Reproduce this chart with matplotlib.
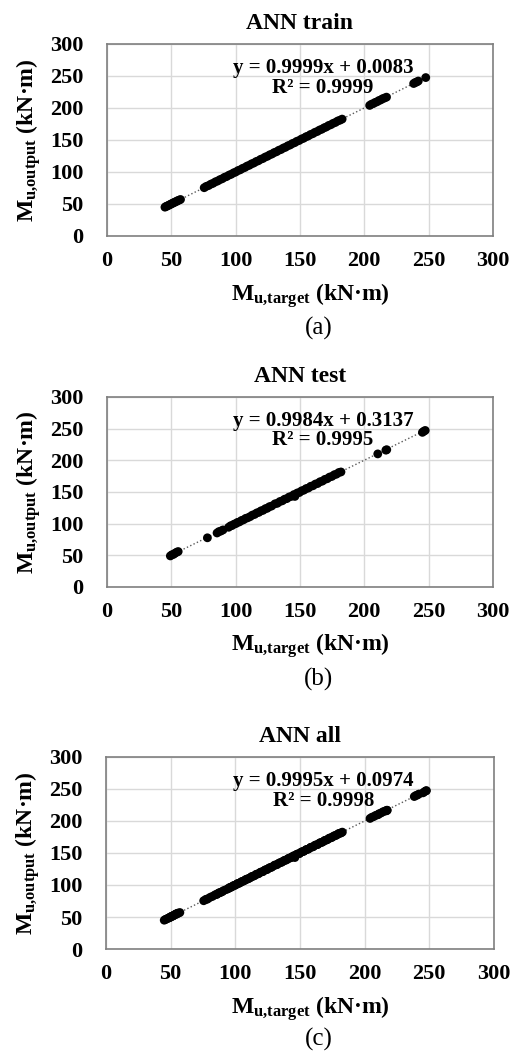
import matplotlib
matplotlib.use("Agg")
import matplotlib.pyplot as plt

plt.rcParams['font.family'] = ['Liberation Serif', 'DejaVu Serif']
plt.rcParams['mathtext.fontset'] = 'custom'
plt.rcParams['mathtext.rm'] = 'Liberation Serif:bold'
plt.rcParams['mathtext.it'] = 'Liberation Serif:bold'
plt.rcParams['mathtext.bf'] = 'Liberation Serif:bold'

# training set (target, ANN output)
train_target = [45.1, 46.0, 46.8, 47.9, 48.7, 49.6, 50.5, 51.4, 52.3, 53.1, 54.2, 55.0, 56.1, 57.2,
                75.6, 77.2, 79.0, 80.8, 82.5, 84.3, 86.1, 87.8, 89.6, 91.4,
                93.0, 94.9, 96.6, 98.4, 100.1, 101.9, 103.6, 105.4, 107.2, 108.9,
                110.7, 112.4, 114.2, 116.0, 117.7, 119.5, 121.2, 123.0, 124.8, 126.5,
                128.3, 130.0, 131.8, 133.6, 135.3, 137.1, 138.8, 140.6, 142.4, 144.1,
                145.9, 147.6, 149.4, 151.2, 152.9, 154.7, 156.4, 158.2, 160.0, 161.7,
                163.5, 165.2, 167.0, 168.8, 170.5, 172.3, 174.0, 175.8, 177.6, 179.3,
                181.1, 182.8,
                204.2, 205.6, 207.0, 208.5, 209.9, 211.3, 212.8, 214.2, 215.7, 217.3,
                238.4, 239.6, 240.8, 242.0, 247.8]
train_output = [45.0, 46.2, 46.7, 48.0, 48.5, 49.8, 50.4, 51.6, 52.2, 53.3, 54.0, 55.2, 56.0, 57.0,
                75.4, 77.5, 78.8, 81.0, 82.3, 84.6, 85.9, 88.0, 89.4, 91.7,
                92.8, 95.1, 96.4, 98.6, 99.9, 102.2, 103.4, 105.6, 107.0, 109.2,
                110.5, 112.7, 114.0, 116.3, 117.5, 119.8, 121.0, 123.3, 124.6, 126.8,
                128.1, 130.3, 131.6, 133.9, 135.1, 137.4, 138.6, 140.9, 142.2, 144.4,
                145.7, 147.9, 149.2, 151.5, 152.7, 155.0, 156.2, 158.5, 159.8, 162.0,
                163.3, 165.5, 166.8, 169.0, 170.3, 172.6, 173.8, 176.0, 177.4, 179.6,
                180.9, 182.6,
                204.0, 205.9, 206.8, 208.7, 209.6, 211.5, 212.6, 214.4, 215.5, 216.9,
                238.2, 239.8, 240.6, 242.1, 247.5]

# test set
test_target = [49.3, 50.5, 51.8, 53.0, 54.2, 55.4, 78.1, 85.6, 87.0, 88.5, 90.2,
               94.6, 96.1, 97.3, 98.8, 100.2, 101.5, 103.0, 104.6, 106.2, 107.9,
               109.5, 111.3, 113.0, 114.8, 116.4, 118.1, 119.7, 121.4, 123.1, 124.6,
               126.2, 128.0, 130.6, 132.5, 134.4, 136.3, 138.1, 139.8, 141.6, 143.5,
               145.3, 146.1, 147.9, 149.6, 151.3, 153.1, 154.8, 156.6, 158.4, 160.1,
               162.0, 163.8, 165.6, 167.5, 169.4, 171.2, 173.0, 174.9, 176.7, 178.4,
               180.2, 181.9, 210.5, 216.8, 217.5, 245.2, 246.3, 247.4]
test_output = [49.0, 50.8, 51.5, 53.4, 54.8, 55.9, 77.6, 85.2, 87.3, 88.2, 90.0,
               94.2, 96.5, 97.0, 99.1, 100.0, 101.9, 102.7, 104.9, 106.0, 108.3,
               109.2, 111.0, 113.4, 114.5, 116.8, 117.8, 120.1, 121.0, 123.5, 124.2,
               126.6, 127.7, 131.2, 132.1, 134.8, 136.0, 138.5, 139.4, 142.0, 143.1,
               145.8, 142.9, 148.3, 149.1, 151.7, 152.8, 155.2, 156.2, 158.9, 159.7,
               162.4, 163.3, 166.0, 167.1, 169.8, 170.8, 173.4, 174.5, 177.1, 178.0,
               180.6, 181.5, 210.0, 215.9, 216.6, 244.0, 245.8, 247.0]

# all = train + test
all_target = train_target + test_target
all_output = train_output + test_output

titles = ["ANN train", "ANN test", "ANN all"]
slopes = [0.9999, 0.9984, 0.9995]
intercepts = [0.0083, 0.3137, 0.0974]
r2 = [0.9999, 0.9995, 0.9998]
sublabels = ["(a)", "(b)", "(c)"]
ticks = [0, 50, 100, 150, 200, 250, 300]

datasets = [(train_target, train_output), (test_target, test_output), (all_target, all_output)]

fig = plt.figure(figsize=(5.14, 10.62), dpi=100)

# axes boxes in figure fractions [left, bottom, width, height]
boxes = [[0.208, 0.7778, 0.751, 0.1808],
         [0.208, 0.4473, 0.751, 0.1790],
         [0.206, 0.1064, 0.755, 0.1808]]
sub_y = [0.680, 0.349, 0.010]

for i in range(3):
    ax = fig.add_axes(boxes[i])
    xs, ys = datasets[i]
    ax.grid(True, color='#d9d9d9', lw=1, zorder=0)
    lx = [min(xs), max(xs)]
    ly = [slopes[i] * v + intercepts[i] for v in lx]
    ax.plot(lx, ly, ls=':', color='#595959', lw=1, zorder=2)
    ax.scatter(xs, ys, s=40, color='black', edgecolors='none', zorder=3)
    ax.set_xlim(0, 300)
    ax.set_ylim(0, 300)
    ax.set_xticks(ticks)
    ax.set_yticks(ticks)
    ax.tick_params(length=0, labelsize=16)
    ax.tick_params(axis='x', pad=11)
    ax.tick_params(axis='y', pad=17)
    for lab in ax.get_xticklabels() + ax.get_yticklabels():
        lab.set_fontweight('bold')
    for sp in ax.spines.values():
        sp.set_color('#7f7f7f')
        sp.set_linewidth(1.2)
    ax.set_axisbelow(True)
    ax.set_title(titles[i], fontsize=17, fontweight='bold', pad=11)
    ax.set_xlabel(r"$M_{u{,}target}$ (kN·m)", fontsize=17, fontweight='bold')
    ax.xaxis.set_label_coords(0.527, -0.235)
    ax.set_ylabel(r"$M_{u{,}output}$ (kN·m)", fontsize=17, fontweight='bold', labelpad=5)
    eq = "y = %.4fx + %.4f\nR² = %.4f" % (slopes[i], intercepts[i], r2[i])
    ax.text(168, 247, eq, ha='center', va='center', fontsize=15, fontweight='bold',
            linespacing=0.95, zorder=4)
    fig.text(0.62, sub_y[i], sublabels[i], ha='center', va='bottom', fontsize=18)

plt.savefig("out.png", dpi=100)
